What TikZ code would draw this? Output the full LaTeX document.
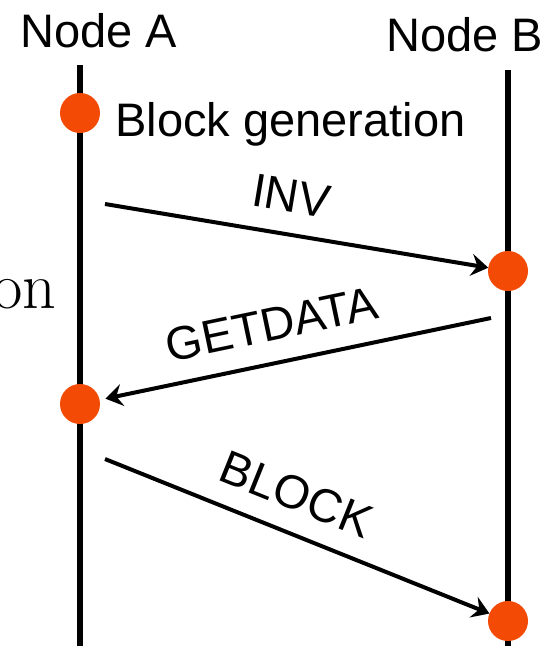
\documentclass[tikz,border=0pt]{standalone}
\usepackage{fontspec}
\newfontfamily\arialfont{Liberation Sans}
\usetikzlibrary{arrows.meta}
\definecolor{dotorange}{RGB}{243,74,6}
\begin{document}
\begin{tikzpicture}[x=1pt,y=-1pt,
    lifeline/.style={line width=5.5pt},
    event/.style={circle,fill=dotorange,minimum size=40pt,inner sep=0pt,outer sep=0pt},
    msg/.style={line width=4pt,-{Stealth[length=17pt,width=22pt,inset=6pt]}},
    txt/.style={font=\arialfont\fontsize{47}{56}\selectfont},
    msglabel/.style={txt,sloped,above=20pt,inner sep=0pt}]
    \useasboundingbox (0,0) rectangle (547,646);
    \node[txt,anchor=base] (nodeA) at (99,47) {Node A};
    \node[txt,anchor=base] (nodeB) at (465,51) {Node B};
    \coordinate (Atop) at (80,65);
    \coordinate (Abot) at (80,646);
    \coordinate (Btop) at (508,70);
    \coordinate (Bbot) at (508,646);
    \draw[lifeline] (Atop) -- (Abot);
    \draw[lifeline] (Btop) -- (Bbot);
    \node[event] (gen) at (80,113) {};
    \node[event] (invB) at (508,271) {};
    \node[event] (getA) at (80,404) {};
    \node[event] (blockB) at (508,621) {};
    \node[txt,anchor=base west] (genlabel) at (112,136) {Block generation};
    \node[font=\fontsize{66}{70}\selectfont,anchor=base east] (cut) at (60,308) {on};
    \coordinate (invstart) at (105,204);
    \coordinate (getstart) at (491,318);
    \coordinate (blockstart) at (105,459);
    \draw[msg] (invstart) -- (invB) node[msglabel,pos=0.47] {INV};
    \draw[msg,shorten >=6pt] (getstart) -- (getA) node[msglabel,pos=0.54] {GETDATA};
    \draw[msg] (blockstart) -- (blockB) node[msglabel,pos=0.46] {BLOCK};
\end{tikzpicture}
\end{document}
